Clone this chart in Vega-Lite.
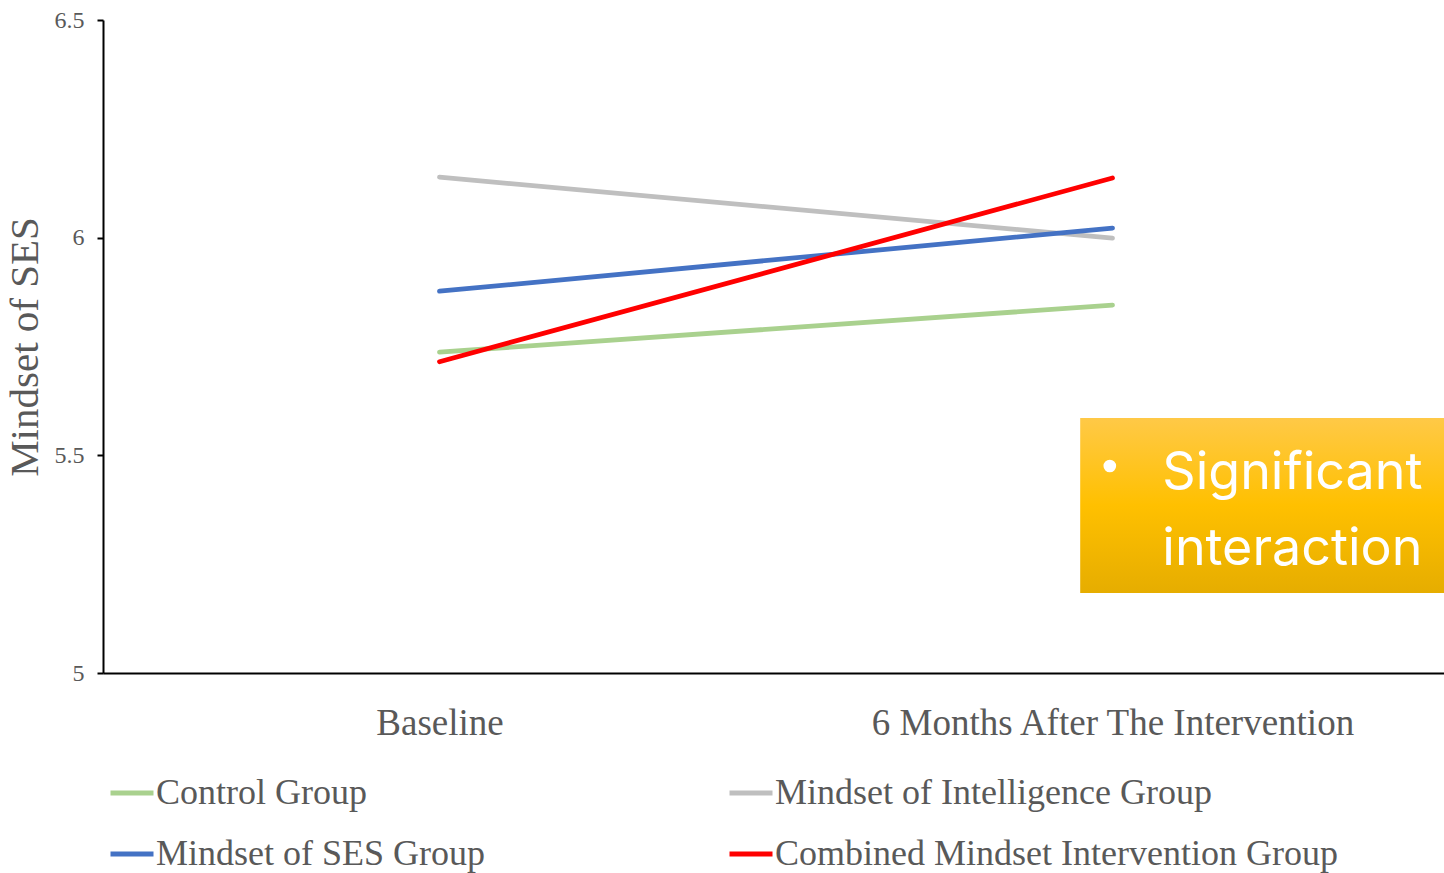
{
  "$schema": "https://vega.github.io/schema/vega-lite/v6.json",
  "width": 1346,
  "height": 653,
  "autosize": "none",
  "padding": {"left": 103, "top": 20, "right": 0, "bottom": 200},
  "background": "white",
  "config": {
    "view": {"stroke": null},
    "font": "Liberation Serif"
  },
  "layer": [
    {
      "data": {
        "values": [
          {"time": "Baseline", "group": "Control Group", "score": 5.737},
          {"time": "6 Months After The Intervention", "group": "Control Group", "score": 5.845},
          {"time": "Baseline", "group": "Mindset of Intelligence Group", "score": 6.139},
          {"time": "6 Months After The Intervention", "group": "Mindset of Intelligence Group", "score": 5.999},
          {"time": "Baseline", "group": "Mindset of SES Group", "score": 5.877},
          {"time": "6 Months After The Intervention", "group": "Mindset of SES Group", "score": 6.022},
          {"time": "Baseline", "group": "Combined Mindset Intervention Group", "score": 5.715},
          {"time": "6 Months After The Intervention", "group": "Combined Mindset Intervention Group", "score": 6.137}
        ]
      },
      "mark": {"type": "line", "strokeWidth": 4.8, "strokeCap": "round"},
      "encoding": {
        "x": {
          "field": "time",
          "type": "nominal",
          "sort": ["Baseline", "6 Months After The Intervention"],
          "scale": {"type": "point", "padding": 0.5},
          "axis": {
            "title": null,
            "labelAngle": 0,
            "ticks": false,
            "labelPadding": 32,
            "labelFont": "Liberation Serif",
            "labelFontSize": 37,
            "labelColor": "#595959",
            "labelLimit": 800,
            "domainColor": "#000000",
            "domainWidth": 2,
            "grid": false
          }
        },
        "y": {
          "field": "score",
          "type": "quantitative",
          "scale": {"domain": [5, 6.5], "zero": false, "nice": false},
          "axis": {
            "title": "Mindset of SES",
            "titleFont": "Liberation Serif",
            "titleFontSize": 41,
            "titleFontWeight": "normal",
            "titleColor": "#595959",
            "titlePadding": 8,
            "values": [5, 5.5, 6, 6.5],
            "format": ".2~f",
            "labelFont": "Liberation Serif",
            "labelFontSize": 24,
            "labelColor": "#595959",
            "labelPadding": 13,
            "tickSize": 6,
            "tickWidth": 2,
            "tickColor": "#000000",
            "domainColor": "#000000",
            "domainWidth": 2,
            "grid": false
          }
        },
        "color": {
          "field": "group",
          "type": "nominal",
          "scale": {
            "domain": ["Control Group", "Mindset of Intelligence Group", "Mindset of SES Group", "Combined Mindset Intervention Group"],
            "range": ["#A9D18E", "#BFBFBF", "#4472C4", "#FF0000"]
          },
          "legend": {
            "title": null,
            "orient": "none",
            "legendX": 5,
            "legendY": 749,
            "direction": "horizontal",
            "columns": 2,
            "columnPadding": 233,
            "rowPadding": 19,
            "symbolType": "stroke",
            "symbolSize": 1849,
            "symbolStrokeWidth": 4.8,
            "labelOffset": 0,
            "labelFont": "Liberation Serif",
            "labelFontSize": 36,
            "labelColor": "#595959",
            "labelLimit": 800
          }
        }
      }
    },
    {
      "data": {"values": [{"note": "Significant\ninteraction"}]},
      "layer": [
        {
          "mark": {"type": "rect", "fill": "#595959", "opacity": 0.25, "xOffset": 6, "yOffset": 8},
          "encoding": {
            "x": {"datum": 0.726, "type": "quantitative", "scale": {"domain": [0, 1]}, "axis": null},
            "x2": {"datum": 1.0},
            "y": {"datum": 5.586, "type": "quantitative"},
            "y2": {"datum": 5.184}
          }
        },
        {
          "mark": {"type": "rect", "fill": "#595959", "opacity": 0.45, "xOffset": 3, "yOffset": 4},
          "encoding": {
            "x": {"datum": 0.726, "type": "quantitative", "scale": {"domain": [0, 1]}, "axis": null},
            "x2": {"datum": 1.0},
            "y": {"datum": 5.586, "type": "quantitative"},
            "y2": {"datum": 5.184}
          }
        },
        {
          "mark": {
            "type": "rect",
            "fill": {
              "gradient": "linear",
              "x1": 0, "y1": 0, "x2": 0, "y2": 1,
              "stops": [
                {"offset": 0, "color": "#FFC947"},
                {"offset": 0.5, "color": "#FFC000"},
                {"offset": 1, "color": "#E6AD00"}
              ]
            }
          },
          "encoding": {
            "x": {"datum": 0.726, "type": "quantitative", "scale": {"domain": [0, 1]}, "axis": null},
            "x2": {"datum": 1.0},
            "y": {"datum": 5.586, "type": "quantitative"},
            "y2": {"datum": 5.184}
          }
        },
        {
          "mark": {"type": "point", "shape": "circle", "filled": true, "fill": "white", "opacity": 1, "size": 160},
          "encoding": {
            "x": {"datum": 0.748, "type": "quantitative", "scale": {"domain": [0, 1]}, "axis": null},
            "y": {"datum": 5.4755, "type": "quantitative"}
          }
        },
        {
          "mark": {
            "type": "text",
            "align": "left",
            "baseline": "alphabetic",
            "font": "Inter",
            "fontSize": 52,
            "lineHeight": 76,
            "lineBreak": "\n",
            "color": "white"
          },
          "encoding": {
            "x": {"datum": 0.787, "type": "quantitative", "scale": {"domain": [0, 1]}, "axis": null},
            "y": {"datum": 5.4227, "type": "quantitative"},
            "text": {"field": "note"}
          }
        }
      ]
    }
  ],
  "resolve": {"scale": {"x": "independent"}}
}
